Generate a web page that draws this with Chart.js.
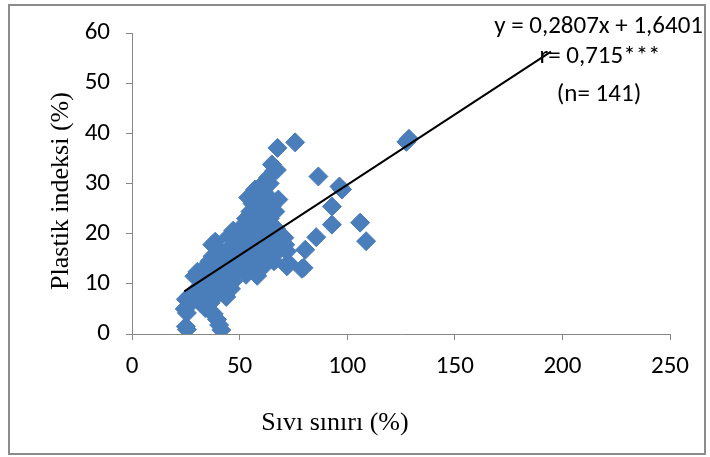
<!DOCTYPE html>
<html>
<head>
<meta charset="utf-8">
<script src="https://cdn.jsdelivr.net/npm/chart.js@4.4.1/dist/chart.umd.min.js"></script>
<style>
html,body{margin:0;padding:0;background:#fff;}
#wrap{position:relative;width:710px;height:457px;}
</style>
</head>
<body>
<div id="wrap"><canvas id="c" width="710" height="457"></canvas></div>
<script>
// ---- data ----
const liquidLimit = [
  25.5,25,41.5,40.5,39.5,38,36.5,25.5,24.5,25,26.5,30.4,34,35,36.5,28,30,32,33,31.8,
  30.4,29,33.5,35,36,37.5,38.7,37.3,38.7,39.5,41,43.4,42,40,41,38,36.5,35,40,41,
  43.8,42,43.4,44.7,45,46,47,47,45,48.5,49,50,52.6,51,52.2,50.3,48,47,46,53,
  52,54,55,56,54,55,55,53,56.5,57.3,58.6,59,60.5,54,56,57.2,58.5,60.5,62,63.3,
  64,65,66,67.3,68,66.6,65,64,62,61,60,62,60.5,58,57,58.2,61.9,63,64.2,65,
  65.1,67,68,70.8,69,68.8,71.2,66,72.7,79.7,56,59,44,50,53,57,60,62,48,51,
  39,34,27,59,63,
  75.8,67.6,86.6,96.4,97.6,92.9,92.9,106,108.8,85.6,80.5,78.9,72,72,127.5,128.7
];
const plasticityIndex = [
  0.9,1.5,0.8,1.8,2.9,4,4.5,4.2,5,6.9,7.5,6.9,5.2,6.5,6.2,8,8.9,9.5,11,10.7,
  12.4,11.5,12.5,13.8,14.5,15.5,15.2,17.8,18.4,17,16.5,16.4,14.5,13,12.8,11,9.3,8,8,8.4,
  7.4,9.5,10.8,14.4,12,15,17.5,20.6,19.5,16.4,18.5,21,21.2,19.5,18.8,13.2,12,10.5,9,11.8,
  14,16,15.2,17.5,20,22.5,24.4,23,24,19.8,22.8,25.5,25.6,27.2,26,28.8,27.5,29.8,28,31.2,
  30,33.8,32.5,32.7,26.8,24.4,25.5,23,22,23.4,20,18.5,16.8,15,13,11.6,13.8,15.5,16.8,18.5,
  20.4,21,18.2,19.2,17,18.8,17.8,14.5,14.2,13.2,19,21,13,17,19,22,24,26,14,16,
  14,10,6,18,20,
  38.2,37.1,31.4,29.4,28.8,25.4,21.8,22.2,18.5,19.3,16.8,13.0,16.5,13.5,38.3,38.9
];
// trend line end points as drawn in the picture
const trendX = [24.3, 194.7];
const trendY = [8.5, 56.3];
const xTicks = [0, 50, 100, 150, 200, 250];
const yTicks = [0, 10, 20, 30, 40, 50, 60];
const xTitle = 'Sıvı sınırı (%)';
const yTitle = 'Plastik indeksi (%)';
const annotationLines = ['y = 0,2807x + 1,6401', 'r= 0,715***', '(n= 141)'];

const points = liquidLimit.map((x, i) => ({x: x, y: plasticityIndex[i]}));
const trend = trendX.map((x, i) => ({x: x, y: trendY[i]}));

const SANS = "Carlito, Lato, 'Liberation Sans', sans-serif";
const SERIF = "'Liberation Serif', 'Times New Roman', serif";
const AXIS = '#868686';

const decor = {
  id: 'decor',
  beforeDraw(chart) {
    const ctx = chart.ctx;
    ctx.save();
    ctx.fillStyle = '#fff';
    ctx.fillRect(0, 0, chart.width, chart.height);
    ctx.restore();
  },
  afterDraw(chart) {
    const ctx = chart.ctx;
    ctx.save();
    // outer frame
    ctx.strokeStyle = '#8c8c8c';
    ctx.lineWidth = 2;
    ctx.strokeRect(9, 5, 696, 449);
    // axis titles
    ctx.fillStyle = '#000';
    ctx.font = '26px ' + SERIF;
    ctx.textAlign = 'center';
    ctx.textBaseline = 'middle';
    ctx.fillText(xTitle, 335, 423);
    ctx.translate(61, 191);
    ctx.rotate(-Math.PI / 2);
    ctx.fillText(yTitle, 0, 0);
    ctx.setTransform(1, 0, 0, 1, 0, 0);
    // regression text
    ctx.font = '25px ' + SANS;
    ctx.textAlign = 'right';
    ctx.fillText(annotationLines[0], 703, 27);
    ctx.textAlign = 'center';
    ctx.fillText(annotationLines[1], 600, 57);
    ctx.fillText(annotationLines[2], 599, 95);
    ctx.restore();
  }
};

new Chart(document.getElementById('c'), {
  data: {
    datasets: [
      {
        type: 'line',
        data: trend,
        borderColor: '#000',
        borderWidth: 2,
        pointRadius: 0,
        fill: false,
        order: 1
      },
      {
        type: 'scatter',
        data: points,
        pointStyle: 'rectRot',
        pointRadius: 9.5,
        backgroundColor: '#4a7ebb',
        borderColor: '#4a7ebb',
        borderWidth: 1,
        order: 2
      }
    ]
  },
  options: {
    responsive: false,
    animation: false,
    events: [],
    layout: {padding: {left: 0, top: 33, right: 40, bottom: 0}},
    plugins: {legend: {display: false}, tooltip: {enabled: false}},
    scales: {
      x: {
        type: 'linear',
        min: 0, max: 250,
        afterBuildTicks(s) { s.ticks = xTicks.map(v => ({value: v})); },
        afterFit(s) { s.height = 123; },
        grid: {display: true, drawOnChartArea: false, drawTicks: true, tickLength: 6, color: AXIS},
        border: {display: true, color: AXIS, width: 1},
        ticks: {font: {family: SANS, size: 25}, color: '#000', padding: 12, maxRotation: 0}
      },
      y: {
        type: 'linear',
        min: 0, max: 60,
        afterBuildTicks(s) { s.ticks = yTicks.map(v => ({value: v})); },
        afterFit(s) { s.width = 132; },
        grid: {display: true, drawOnChartArea: false, drawTicks: true, tickLength: 6, color: AXIS},
        border: {display: true, color: AXIS, width: 1},
        ticks: {font: {family: SANS, size: 25}, color: '#000', padding: 16}
      }
    }
  },
  plugins: [decor]
});
</script>
</body>
</html>
